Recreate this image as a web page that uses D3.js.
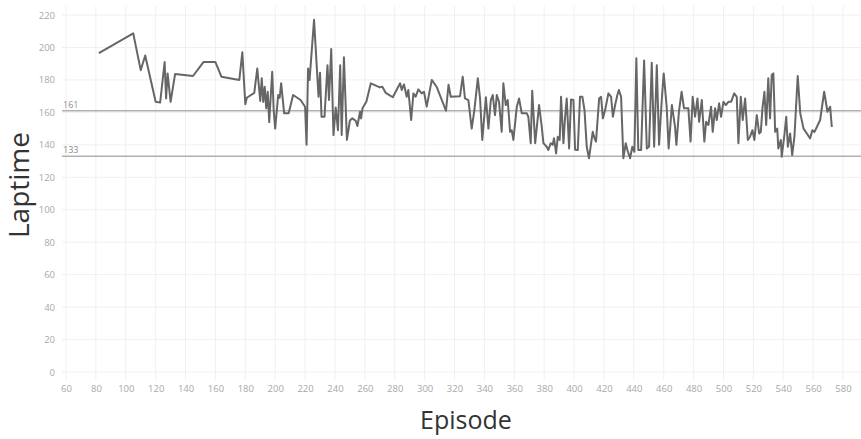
<!DOCTYPE html>
<html>
<head>
<meta charset="utf-8">
<script src="https://cdn.jsdelivr.net/npm/d3@7"></script>
<style>
  body { margin: 0; background: #fff; }
  text { font-family: "Open Sans", sans-serif; }
</style>
</head>
<body>
<div id="chart"></div>
<script>
// episode numbers and lap times
var episodes = [82,105,110,113,120,123,126,127,128,130,133,145,152,160,164,176,178,180,181,186,188,
  190,191,192,193,194,195,196,198,199,200,202,203,204,206,209,212,217,220,221,222,223,226,229,230,231,233,235,236,237.5,
  239,240.5,242,243.5,244.5,246,248,250,251.6,253.9,255,256.8,257.5,258.4,261,264,270,271.7,274,278.7,283.6,
  284.7,286.2,288,289.1,291,292.5,294,295.8,298,299.6,301.4,304.8,308,314.3,316,317.5,323.7,325.5,327,329.3,331.5,333.3,335.6,337.1,338.6,341,342.7,344.3,345.6,347.1,348.3,349.8,351.6,352.7,354.3,355.6,357.2,358.3,359.4,361.7,363.2,365,368.4,369.4,371,372,374,376.6,378.4,379.5,381.7,382.8,384.4,385.7,386.6,388,389.1,390.4,
  391.3,392.9,394,395.1,396.7,398,399.6,400.7,402.5,404,405.6,407,408.5,410,412.5,413.7,414.7,416.8,418.1,419.3,420.8,423,424.8,426,427.5,429,430,431.5,433,434.6,435.7,437.5,439,440.4,441.7,443,444.9,446.9,448.7,450.2,452,453.6,455.4,
  456.9,458.7,460,462,463.3,465.5,467.6,468.5,470.2,472,473.6,475.4,476.5,478,479.4,481,482.6,483.7,485.5,487.2,488.4,489.9,491.7,492.8,494.4,495.5,497.1,498.4,500,501.6,503.3,505.1,507.2,508.9,510,511.6,512.9,514.5,516.3,517.8,519.4,520.7,522.3,523.9,525,526.1,527.4,528.6,530,531.2,532.3,533.4,534.6,536,536.7,538.4,539,540.9,542,543.1,544.6,546,547.5,549.7,551.4,553.6,555.8,558,559.5,560.9,562.5,564.7,567.4,569.6,571.4,572.5];
var laptimes = [196.5,208.7,186,195,166.5,166,191,168.6,184,166.5,183.6,182.4,191,191,182,180,197,165,169,172,187,
  167,181,166.5,175.8,162.5,172.7,154,185,161.4,150,170.7,169,178,159.4,159.4,170.7,167.6,163.5,140,187,180,217,169.6,184.4,157.3,157.3,189,167.6,199,
  146,163,149,189,146,194,143,155,156.3,154.8,151.6,160.4,156.3,162.5,166.5,177.9,175.4,175.8,172,169.3,177.9,
  173.8,177.2,169.6,173.8,155.3,171.7,169.6,174.2,171.7,172.7,163.5,180,175.8,161,177,169.6,170,182,168.6,167.6,150,161.4,181,168.6,143,169.3,150,167.6,170.7,158.3,170.7,166.5,148,177.9,164.5,167.6,148,149,143,163.5,168.6,159.4,159.4,157.3,141,173.3,141,164.5,151,141,138.8,136.8,141,140,144,134.7,145,143,
  169.6,141,157,168.6,137.8,168,167.6,137,136.8,169.6,169.6,161.4,138.8,131.7,148,144,142,168.6,169.6,156.3,161.4,171.7,169.6,157.3,164.5,170.7,173.8,169.6,131.7,141,136.8,131.7,138.8,135.7,193.3,136.8,136.8,192,137.8,138.8,190.6,138.8,189,
  140,167.6,184,163.5,137.8,164.5,151,140,160.4,172.7,162.5,162.5,162.5,142,169.6,157.3,168.6,154.2,167.6,142,154.2,152.2,163.5,148,162.5,155.3,165.6,157.3,166.5,164.5,166.5,166.5,171.7,169.6,141,169.6,155.3,168.6,143,145,149,143,158.3,147,148,162.5,172.7,152.2,181,156.3,183,184,148,150,137.8,143,132.7,147,157.3,138.8,147,133.7,145,182.4,159.4,150,147,144,149,148,151,155.3,172.7,160.4,163.5,151];

var refValues = [161, 133];
var xTicks = d3.range(60, 581, 20);
var yTicks = d3.range(0, 221, 20);

var width = 861, height = 439;
var plotLeft = 62, plotRight = 861, plotTop = 6, plotBottom = 380;

var svg = d3.select("#chart")
  .append("svg")
    .attr("width", width)
    .attr("height", height);

var x = d3.scaleLinear()
  .domain([60, 580])
  .range([66, 843]);

var y = d3.scaleLinear()
  .domain([0, 220])
  .range([372, 15]);

// grid lines
svg.append("g")
  .selectAll("line")
  .data(yTicks)
  .enter()
  .append("line")
    .attr("x1", plotLeft)
    .attr("x2", plotRight)
    .attr("y1", function (d) { return y(d); })
    .attr("y2", function (d) { return y(d); })
    .attr("stroke", "#f0f0f0")
    .attr("stroke-width", 1);

svg.append("g")
  .selectAll("line")
  .data(xTicks)
  .enter()
  .append("line")
    .attr("x1", function (d) { return x(d); })
    .attr("x2", function (d) { return x(d); })
    .attr("y1", plotTop)
    .attr("y2", plotBottom)
    .attr("stroke", "#f0f0f0")
    .attr("stroke-width", 1);

// Y axis
var yAxis = svg.append("g")
  .attr("transform", "translate(" + 56 + ",0)")
  .call(d3.axisLeft(y).tickValues(yTicks).tickSize(0).tickPadding(1));
yAxis.select(".domain").remove();
yAxis.selectAll("text")
  .attr("fill", "#a8a8a8")
  .style("font-size", "9.5px");

// X axis
var xAxis = svg.append("g")
  .attr("transform", "translate(0," + 384 + ")")
  .call(d3.axisBottom(x).tickValues(xTicks).tickSize(0).tickPadding(1));
xAxis.select(".domain").remove();
xAxis.selectAll("text")
  .attr("fill", "#a8a8a8")
  .style("font-size", "9.5px");

// reference lines
svg.append("g")
  .selectAll("line")
  .data(refValues)
  .enter()
  .append("line")
    .attr("x1", plotLeft)
    .attr("x2", plotRight)
    .attr("y1", function (d) { return y(d); })
    .attr("y2", function (d) { return y(d); })
    .attr("stroke", "#b0b0b0")
    .attr("stroke-width", 1.5);

svg.append("g")
  .selectAll("text")
  .data(refValues)
  .enter()
  .append("text")
    .attr("x", plotLeft + 1)
    .attr("y", function (d) { return y(d) - 3; })
    .attr("fill", "#8c8c8c")
    .style("font-size", "9px")
    .text(function (d) { return d; });

// the line
var points = episodes.map(function (e, i) { return [e, laptimes[i]]; });
svg.append("path")
  .datum(points)
  .attr("fill", "none")
  .attr("stroke", "#666")
  .attr("stroke-width", 2)
  .attr("stroke-linejoin", "round")
  .attr("d", d3.line()
    .x(function (d) { return x(d[0]); })
    .y(function (d) { return y(d[1]); }));

// axis titles
svg.append("text")
  .attr("transform", "translate(" + 29 + "," + 185 + ") rotate(-90)")
  .attr("text-anchor", "middle")
  .attr("fill", "#333")
  .style("font-size", "28px")
  .text("Laptime");

svg.append("text")
  .attr("x", 466)
  .attr("y", 429)
  .attr("text-anchor", "middle")
  .attr("fill", "#333")
  .style("font-size", "25px")
  .text("Episode");
</script>
</body>
</html>
